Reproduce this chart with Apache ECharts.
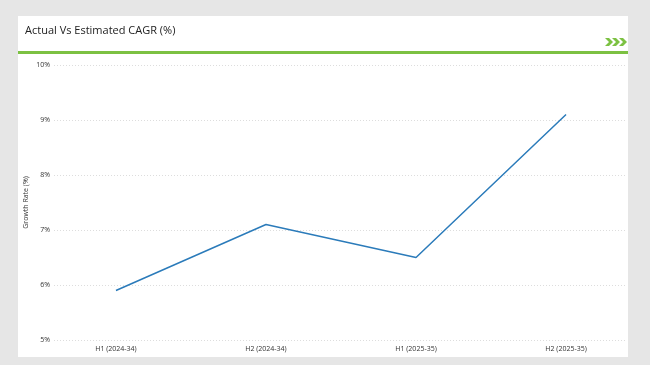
<!DOCTYPE html>
<html>
<head>
<meta charset="utf-8">
<script src="https://cdn.jsdelivr.net/npm/echarts@6/dist/echarts.min.js"></script>
<style>
html,body{margin:0;padding:0;background:#e6e6e6;}
#c{width:650px;height:365px;}
</style>
</head>
<body>
<div id="c"></div>
<script>
const categories = ['H1 (2024-34)', 'H2 (2024-34)', 'H1 (2025-35)', 'H2 (2025-35)'];
const growthValues = [5.9, 7.1, 6.5, 9.1];
const yTicks = [5, 6, 7, 8, 9, 10];

const chart = echarts.init(document.getElementById('c'), null, {renderer: 'canvas'});
const font = 'Open Sans, Liberation Sans, sans-serif';
const option = {
  backgroundColor: '#e6e6e6',
  animation: false,
  graphic: [
    {type: 'rect', z: -10, shape: {x: 18, y: 16, width: 610, height: 341}, style: {fill: '#ffffff'}},
    {type: 'rect', z: 5, shape: {x: 18, y: 51, width: 610, height: 3}, style: {fill: '#7cc142'}},
    {type: 'text', z: 5, left: 25, top: 25, style: {text: 'Actual Vs Estimated CAGR (%)', fill: '#222222', font: '11px ' + font}},
    {type: 'polygon', z: 5, shape: {points: [[605,38],[609,38],[613,42],[609,46],[605,46],[609,42]]}, style: {fill: '#7cc142'}},
    {type: 'polygon', z: 5, shape: {points: [[612,38],[616,38],[620,42],[616,46],[612,46],[616,42]]}, style: {fill: '#7cc142'}},
    {type: 'polygon', z: 5, shape: {points: [[619,38],[623,38],[627,42],[623,46],[619,46],[623,42]]}, style: {fill: '#7cc142'}}
  ],
  grid: {left: 54, right: 25, top: 65, bottom: 25, containLabel: false},
  xAxis: {
    type: 'value',
    min: -0.413,
    max: 3.393,
    axisLine: {show: false},
    axisTick: {show: false},
    splitLine: {show: false},
    axisLabel: {
      customValues: categories.map((c, i) => i),
      formatter: v => categories[Math.round(v)],
      color: '#333333', fontSize: 7, fontFamily: font, margin: 5
    }
  },
  yAxis: {
    type: 'value',
    min: yTicks[0],
    max: yTicks[yTicks.length - 1],
    interval: 1,
    name: 'Growth Rate (%)',
    nameLocation: 'middle',
    nameGap: 25,
    nameMoveOverlap: false,
    nameTextStyle: {color: '#333333', fontSize: 7, fontFamily: font},
    axisLine: {show: false},
    axisTick: {show: false},
    axisLabel: {formatter: '{value}%', color: '#333333', fontSize: 7, fontFamily: font, margin: 4},
    splitLine: {show: true, lineStyle: {color: '#dddddd', type: [1, 2], width: 1}}
  },
  series: [{
    type: 'line',
    data: growthValues.map((v, i) => [i, v]),
    showSymbol: false,
    symbol: 'none',
    lineStyle: {color: '#2b7bba', width: 1.5},
    itemStyle: {color: '#2b7bba'}
  }]
};
chart.setOption(option);
</script>
</body>
</html>
